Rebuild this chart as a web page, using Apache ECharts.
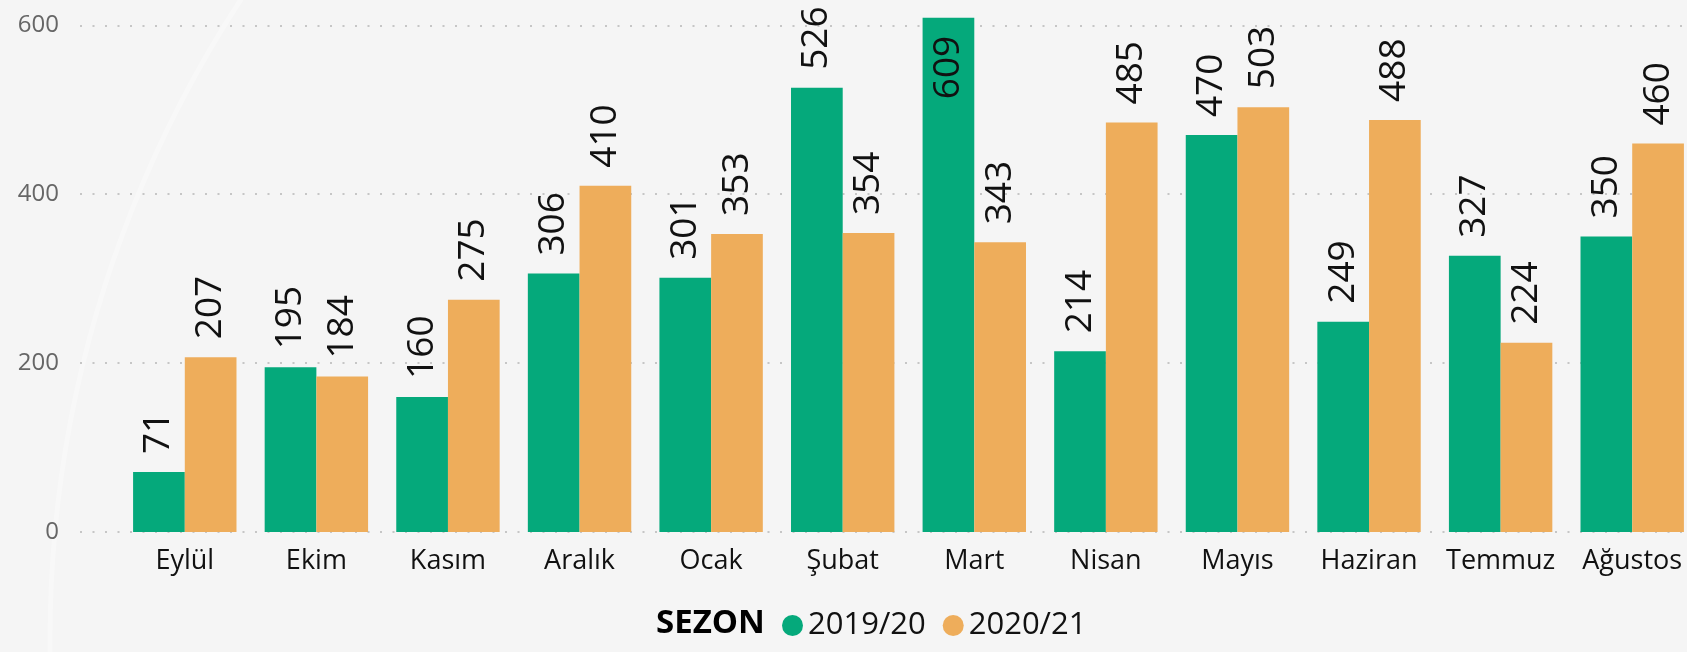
<!DOCTYPE html>
<html>
<head>
<meta charset="utf-8">
<script src="https://cdn.jsdelivr.net/npm/echarts@6/dist/echarts.min.js"></script>
<style>
html, body { margin: 0; padding: 0; background: #f5f5f5; overflow: hidden; }
#main { width: 1700px; height: 652px; }/*a bit wider than the window: last bar group runs off the edge*/
</style>
</head>
<body>
<div id="main"></div>
<script>
var months = ['Eylül', 'Ekim', 'Kasım', 'Aralık', 'Ocak', 'Şubat', 'Mart', 'Nisan', 'Mayıs', 'Haziran', 'Temmuz', 'Ağustos'];
var sezon1920 = [71, 195, 160, 306, 301, 526, 609, 214, 470, 249, 327, 350];
var sezon2021 = [207, 184, 275, 410, 353, 354, 343, 485, 503, 488, 224, 460];
var seasonNames = ['2019/20', '2020/21'];
var yTicks = [0, 200, 400, 600];

var fontname = 'Open Sans';
var colors = ['#05A97B', '#EEAD5B'];

var labelstyle = {//value labels, rotated like the original
    show: true,
    position: 'top',
    rotate: 90,
    align: 'left',
    verticalAlign: 'middle',
    distance: 18,
    fontSize: 37,
    fontFamily: fontname,
    color: '#111'
};

function builddata(values) {//too tall bars get their label inside
    return values.map(function (v) {
        if (v > 540) {
            return { value: v, label: { position: 'insideTop', align: 'right' } };
        }
        return v;
    });
}

var ymax = 630;
var yinterval = yTicks[1] - yTicks[0];

var myChart = echarts.init(document.getElementById('main'));
var option = {
    backgroundColor: '#f5f5f5',
    graphic: [
        {//faint background arc
            type: 'circle',
            silent: true,
            z: -10,
            shape: { cx: 1220, cy: 640, r: 1170 },
            style: { fill: 'none', stroke: 'rgba(255,255,255,0.3)', lineWidth: 5 }
        }
    ],
    title: {
        text: 'SEZON',
        left: 656,
        top: 607,
        padding: 0,
        textStyle: { fontFamily: fontname, fontSize: 33, fontWeight: 'bold', color: '#000' }
    },
    legend: {
        data: seasonNames,
        left: 782,
        top: 610,
        padding: 0,
        icon: 'circle',
        itemWidth: 21,
        itemHeight: 21,
        itemGap: 17,
        textStyle: { fontFamily: fontname, fontSize: 31, color: '#111' }
    },
    grid: [
        { left: 119, top: 0, width: 1579, height: 532 },//bars
        { left: 80, right: 13, top: 0, height: 532 }//y axis + gridlines
    ],
    xAxis: [
        {
            type: 'category',
            gridIndex: 0,
            data: months,
            axisLine: { show: false },
            axisTick: { show: false },
            axisLabel: { interval: 0, fontFamily: fontname, fontSize: 27, color: '#111', margin: 16 }
        },
        { type: 'value', gridIndex: 1, show: false }
    ],
    yAxis: [
        { type: 'value', gridIndex: 0, min: yTicks[0], max: ymax, interval: yinterval, show: false },
        {
            type: 'value',
            gridIndex: 1,
            min: yTicks[0],
            max: ymax,
            interval: yinterval,
            axisLine: { show: false },
            axisTick: { show: false },
            axisLabel: { fontFamily: fontname, fontSize: 24, color: '#666', margin: 21, showMaxLabel: false },
            splitLine: { showMaxLine: false, lineStyle: { type: [2, 10.5], color: '#c6c6c6', width: 2 } }
        }
    ],
    series: [
        {
            name: seasonNames[0],
            type: 'bar',
            xAxisIndex: 0,
            yAxisIndex: 0,
            barWidth: 51.7,
            barGap: '0%',
            itemStyle: { color: colors[0] },
            label: labelstyle,
            data: builddata(sezon1920)
        },
        {
            name: seasonNames[1],
            type: 'bar',
            xAxisIndex: 0,
            yAxisIndex: 0,
            barWidth: 51.7,
            barGap: '0%',
            itemStyle: { color: colors[1] },
            label: labelstyle,
            data: builddata(sezon2021)
        }
    ]
};
myChart.setOption(option);
</script>
</body>
</html>
